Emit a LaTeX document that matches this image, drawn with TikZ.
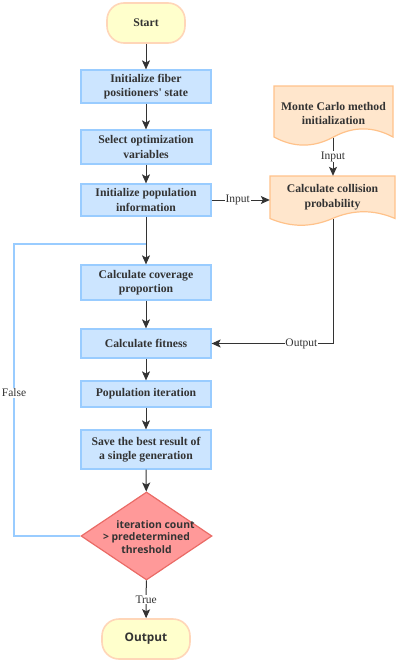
\documentclass[tikz,border=0pt]{standalone}
\usepackage{fontspec}
\setmainfont{Liberation Serif}
\newfontfamily\dsans{Open Sans}
\usetikzlibrary{arrows.meta,shapes.geometric,calc}
\definecolor{bfill}{HTML}{CCE5FF}
\definecolor{bdraw}{HTML}{99CCFF}
\definecolor{tfill}{HTML}{FFFFCC}
\definecolor{tdraw}{HTML}{FFD6B8}
\definecolor{ofill}{HTML}{FFE6CC}
\definecolor{odraw}{HTML}{FFC28A}
\definecolor{dfill}{HTML}{FF9999}
\definecolor{ddraw}{HTML}{EA6B66}
\definecolor{ink}{HTML}{333333}
\tikzset{
  proc/.style={rectangle, draw=bdraw, fill=bfill, line width=1.2pt, minimum width=130pt, inner sep=0pt, align=center, text=ink, font=\fontsize{11.7}{14.5}\selectfont\bfseries},
  term/.style={rectangle, rounded corners=17pt, draw=tdraw, fill=tfill, line width=1.6pt, minimum width=78pt, minimum height=40pt, inner sep=0pt, text=ink},
  doctext/.style={rectangle, inner sep=0pt, align=center, text=ink, font=\fontsize{11.7}{14.5}\selectfont\bfseries},
  docshape/.style={draw=odraw, fill=ofill, line width=1.2pt},
  conn/.style={draw=ink, line width=1pt, -{Stealth[length=9pt,width=8pt,inset=2pt]}},
  loopline/.style={draw=bdraw, line width=1.3pt},
  lab/.style={fill=white, inner sep=0.8pt, text=ink, font=\fontsize{11.5}{12}\selectfont},
}
\begin{document}
\begin{tikzpicture}[x=1pt,y=-1pt]
\useasboundingbox (0,0) rectangle (400,664);
% terminals
\node[term, font=\fontsize{11.7}{14}\selectfont\bfseries] (start) at (146,23) {Start};
\node[term, minimum width=88pt, font=\dsans\fontsize{11.8}{14}\selectfont\bfseries] (out) at (146,639) {Output};
% process boxes
\node[proc, minimum height=33pt] (b1) at (146,86.5) {Initialize fiber\\positioners\textquotesingle{} state};
\node[proc, minimum height=34pt] (b2) at (146,147) {Select optimization\\variables};
\node[proc, minimum height=32pt] (b3) at (146,200) {Initialize population\\information};
\node[proc, minimum height=35pt] (cov) at (146,282.5) {Calculate coverage\\proportion};
\node[proc, minimum height=29pt] (fit) at (146,343.5) {Calculate fitness};
\node[proc, minimum height=26pt] (pop) at (146,394) {Population iteration};
\node[proc, minimum height=39pt] (save) at (146,449.5) {Save the best result of\\a single generation};
% decision
\node[diamond, draw=ddraw, fill=dfill, line width=1.2pt, minimum width=131pt, minimum height=88pt, inner sep=0pt] (dia) at (146.5,536) {};
\node[align=center, inner sep=0pt, text=ink, font=\dsans\fontsize{10.4}{12.6}\selectfont\bfseries] (diat) at (146.5,537) {\hspace*{18pt}iteration count\\> predetermined\\threshold};
% documents
\path[docshape] (274,86) -- (393,86) -- (393,137) .. controls (373.17,126.2) and (353.33,126.2) .. (333.5,137) .. controls (313.67,147.8) and (293.83,147.8) .. (274,137) -- cycle;
\node[doctext] (mc) at (333.5,113.5) {Monte Carlo method\\initialization};
\coordinate (mcb) at (333,137.5);
\path[docshape] (270,176) -- (395,176) -- (395,218.5) .. controls (374.17,209.5) and (353.33,209.5) .. (332.5,218.5) .. controls (311.67,227.5) and (290.83,227.5) .. (270,218.5) -- cycle;
\node[doctext, minimum width=125pt, minimum height=42.5pt] (col) at (332.5,197.25) {Calculate collision\\probability};
\coordinate (colb) at (333,219);
% connectors
\draw[conn] (start) -- (b1);
\draw[conn] (b1) -- (b2);
\draw[conn] (b2) -- (b3);
\draw[conn] (b3) -- (cov);
\draw[conn] (cov) -- (fit);
\draw[conn] (fit) -- (pop);
\draw[conn] (pop) -- (save);
\draw[conn] (save) -- (dia);
\draw[conn] (dia) -- node[lab, pos=0.5] (ltrue) {True} (out);
\draw[conn] (b3.east) -- node[lab, pos=0.45] (lin1) {Input} (b3.east -| col.west);
\draw[conn] (mcb) -- node[lab, pos=0.5] (lin2) {Input} (mcb |- col.north);
\draw[conn] (colb) |- node[lab, pos=0.63] (lout) {Output} (fit.east);
% false loop
\coordinate (fa) at (14,536);
\coordinate (fb) at (14,244);
\coordinate (fj) at (146,244);
\draw[loopline] (dia.west) -- (fa) -- node[lab, pos=0.49] (lfalse) {False} (fb) -- (fj);
\end{tikzpicture}
\end{document}
